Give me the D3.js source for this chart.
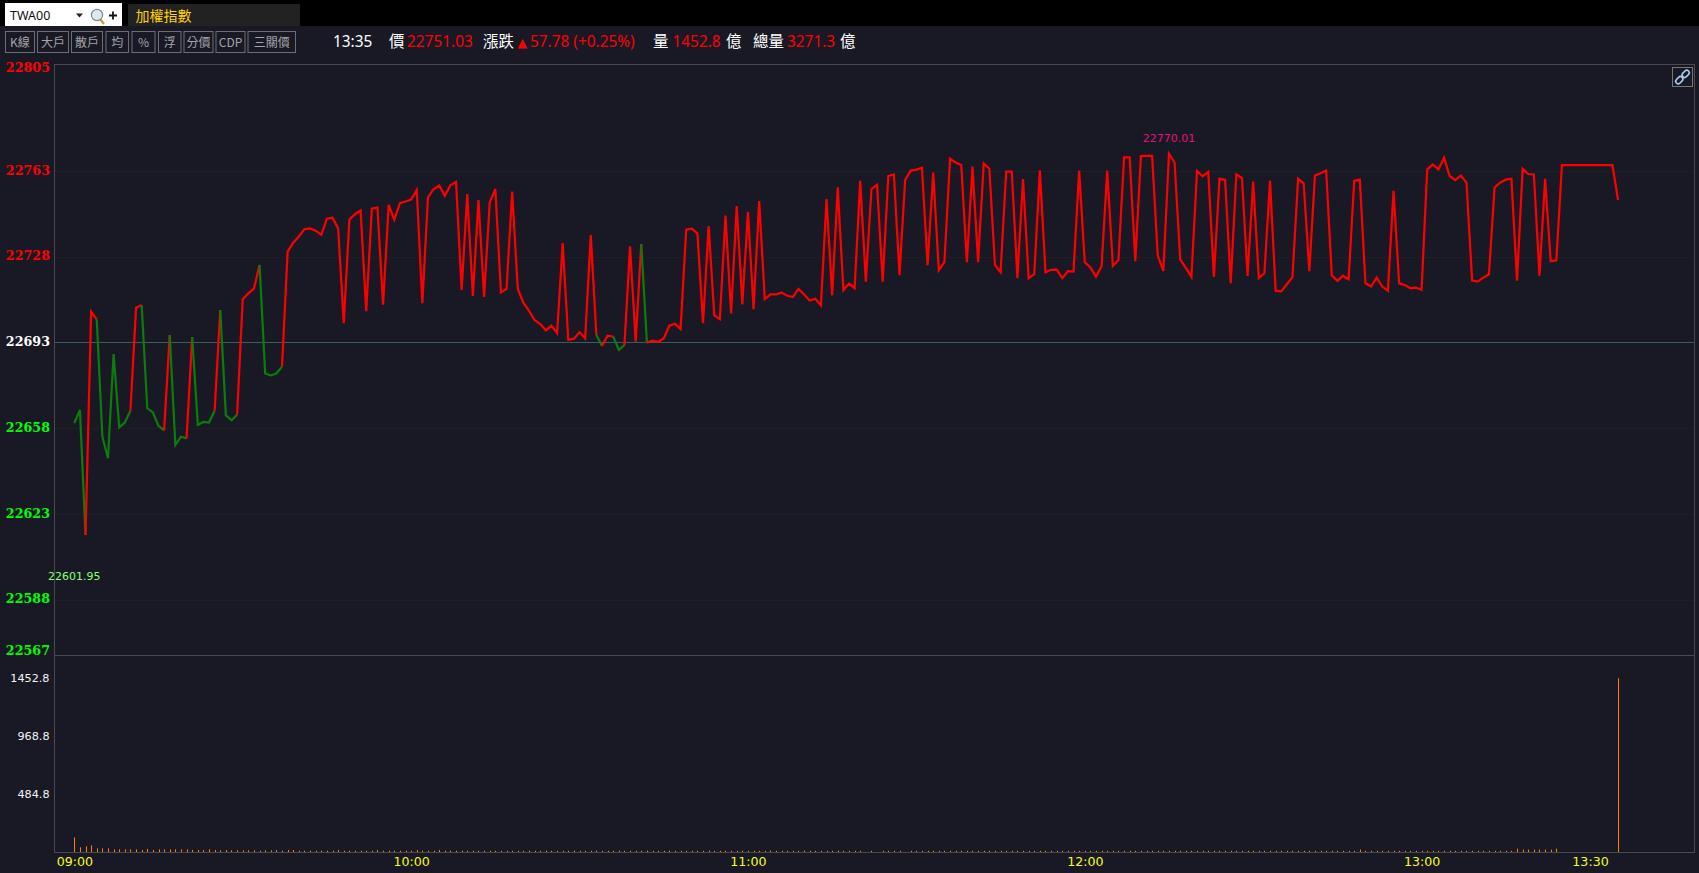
<!DOCTYPE html>
<html lang="zh-Hant">
<head>
<meta charset="utf-8">
<title>加權指數</title>
<script src="https://cdn.jsdelivr.net/npm/d3@7"></script>
<style>
  html, body { margin: 0; padding: 0; background: #191925; overflow: hidden; }
  svg { display: block; }
  text { font-family: "Noto Sans", "Noto Sans CJK TC", sans-serif; }
  .num { font-family: "DejaVu Sans", sans-serif; }
  .price-axis text { font-family: "DejaVu Serif", serif; font-weight: bold; font-size: 12.7px; }
  .vol-axis text { font-family: "DejaVu Sans", sans-serif; font-size: 11.2px; fill: #f4f4f4; }
  .time-axis text { font-family: "DejaVu Sans", sans-serif; font-size: 12.6px; fill: #f4ff20; }
</style>
</head>
<body>
<div id="chart"></div>
<script>
// Index level at the close of each minute from 09:00
const prices = [
  22660.1, 22665.4, 22614.4, 22705.5, 22702.4, 22654.5, 22645.7, 22688.2, 22658.3, 22660.3,
  22665.1, 22707.1, 22708.2, 22666.1, 22664.4, 22658.9, 22657.1, 22696.0, 22651.1, 22654.5,
  22653.8, 22695.2, 22659.3, 22660.5, 22660.3, 22665.1, 22706.2, 22663.3, 22661.2, 22663.5,
  22710.6, 22713.0, 22714.9, 22724.6, 22680.3, 22679.5, 22680.3, 22683.1, 22730.0, 22733.7,
  22736.2, 22739.2, 22739.5, 22738.6, 22736.9, 22743.5, 22743.9, 22739.5, 22700.8, 22743.1,
  22745.3, 22746.8, 22705.7, 22747.6, 22748.0, 22708.4, 22749.1, 22743.0, 22749.8, 22750.5,
  22751.3, 22755.2, 22709.0, 22752.2, 22755.5, 22757.0, 22752.8, 22757.1, 22758.5, 22714.4,
  22753.5, 22711.9, 22751.1, 22711.5, 22750.1, 22755.6, 22713.4, 22714.8, 22754.5, 22714.8,
  22709.2, 22705.9, 22702.1, 22700.5, 22697.9, 22699.8, 22696.7, 22733.5, 22694.0, 22694.5,
  22697.2, 22694.6, 22736.8, 22696.0, 22691.5, 22695.7, 22695.4, 22689.9, 22691.9, 22732.2,
  22693.3, 22733.1, 22692.9, 22693.7, 22693.2, 22694.6, 22699.8, 22700.6, 22698.4, 22739.0,
  22739.4, 22737.5, 22700.8, 22740.5, 22704.0, 22702.4, 22744.7, 22704.8, 22748.6, 22708.5,
  22746.3, 22706.5, 22750.7, 22710.7, 22712.6, 22712.6, 22713.3, 22712.0, 22711.5, 22714.8,
  22712.5, 22710.1, 22710.8, 22708.1, 22751.5, 22712.2, 22756.3, 22714.3, 22717.0, 22715.1,
  22758.9, 22717.8, 22755.6, 22757.3, 22717.8, 22760.9, 22761.5, 22720.4, 22759.3, 22763.1,
  22763.5, 22764.3, 22724.5, 22762.3, 22722.4, 22725.7, 22767.9, 22766.4, 22765.4, 22725.7,
  22764.7, 22725.7, 22766.0, 22763.9, 22724.6, 22721.6, 22762.7, 22762.7, 22719.2, 22759.6,
  22719.2, 22720.8, 22763.2, 22721.6, 22722.6, 22722.7, 22719.2, 22722.1, 22721.9, 22763.1,
  22725.7, 22723.6, 22719.8, 22724.2, 22763.1, 22724.2, 22726.6, 22768.5, 22768.5, 22726.1,
  22769.0, 22769.1, 22769.1, 22728.4, 22722.1, 22770.01, 22766.4, 22726.9, 22723.4, 22719.7,
  22763.0, 22760.8, 22762.6, 22719.7, 22759.8, 22759.3, 22717.1, 22761.5, 22760.1, 22720.1,
  22758.6, 22719.2, 22721.2, 22759.0, 22714.1, 22713.8, 22716.7, 22719.6, 22759.8, 22757.9,
  22722.0, 22761.1, 22762.0, 22763.1, 22720.4, 22718.1, 22720.2, 22718.7, 22758.9, 22759.4,
  22717.1, 22715.8, 22719.4, 22715.8, 22714.0, 22754.8, 22717.1, 22716.4, 22715.1, 22715.3,
  22714.5, 22763.6, 22765.6, 22763.6, 22768.3, 22760.9, 22759.2, 22761.1, 22758.2, 22718.2,
  22717.8, 22719.4, 22720.8, 22756.2, 22758.2, 22759.4, 22759.8, 22718.2, 22763.9, 22761.7,
  22761.5, 22720.2, 22759.7, 22726.1, 22726.4, 22765.3, 22765.3, 22765.3, 22765.3, 22765.3,
  22765.3, 22765.3, 22765.3, 22765.3, 22765.3, 22751.03
];

// Turnover per minute, in 億
const volumes = [
  122, 39, 47, 55, 30, 30, 30, 22, 22, 22,
  22, 22, 17, 25, 17, 22, 22, 22, 22, 22,
  22, 17, 17, 17, 22, 17, 14, 17, 14, 14,
  14, 14, 14, 11, 14, 14, 17, 11, 17, 17,
  11, 11, 11, 11, 11, 11, 11, 17, 11, 11,
  11, 11, 11, 11, 17, 11, 11, 11, 11, 11,
  11, 17, 11, 11, 11, 17, 11, 11, 11, 11,
  11, 11, 11, 11, 11, 10, 10, 10, 10, 10,
  10, 12, 10, 10, 12, 10, 10, 10, 10, 12,
  10, 10, 10, 12, 10, 10, 10, 12, 10, 10,
  10, 10, 12, 10, 10, 10, 12, 10, 10, 10,
  10, 10, 10, 12, 10, 10, 10, 10, 10, 12,
  10, 10, 10, 10, 12, 10, 10, 10, 10, 10,
  12, 10, 10, 10, 10, 10, 12, 10, 10, 10,
  10, 0, 10, 0, 10, 10, 10, 10, 0, 10,
  10, 10, 10, 10, 10, 10, 10, 10, 10, 10,
  10, 10, 10, 10, 10, 10, 10, 10, 10, 10,
  10, 10, 10, 10, 10, 10, 10, 10, 10, 10,
  10, 10, 10, 10, 10, 10, 10, 10, 10, 10,
  10, 10, 10, 10, 10, 10, 10, 10, 10, 10,
  10, 10, 10, 10, 10, 10, 10, 10, 10, 10,
  10, 10, 10, 10, 10, 10, 10, 10, 10, 10,
  10, 10, 10, 10, 10, 10, 10, 10, 10, 20,
  10, 10, 10, 10, 10, 10, 10, 10, 10, 10,
  10, 10, 10, 10, 10, 10, 10, 10, 10, 10,
  10, 10, 10, 10, 10, 10, 10, 28, 20, 20,
  20, 20, 20, 20, 28, 0, 0, 0, 0, 0,
  0, 0, 0, 0, 0, 1452.8
];

const priceTicks = [22805, 22763, 22728, 22693, 22658, 22623, 22588, 22567];
const referenceLevel = 22693;
const volumeTicks = [484.8, 968.8, 1452.8];
const timeTickMinutes = [0, 60, 120, 180, 240, 270];
const timeTickLabels = ["09:00", "10:00", "11:00", "12:00", "13:00", "13:30"];
const toolButtons = ["K線", "大戶", "散戶", "均", "%", "浮", "分價", "CDP", "三關價"];
const sessionHigh = 22770.01, sessionHighMinute = 195;
const sessionLow = 22601.95, sessionLowMinute = 0;

const RED = "#ff0000", GREEN = "#0b7d0b", LIME = "#00ff00";
const FRAME = "#4a4a4d";

const svg = d3.select("#chart").append("svg").attr("width", 1699).attr("height", 873);

// Panel geometry
const panelLeft = 54.5, panelRight = 1694.5, panelTop = 64.5, panelMid = 655.5, panelBottom = 852.5;

const x = d3.scaleLinear().domain([0, 270]).range([74.3, 1590]);
const y = d3.scaleLinear().domain([22565.2, 22806.4]).range([panelMid, panelTop]);
const yVol = d3.scaleLinear().domain([0, 1452.8]).range([panelBottom - 0.5, 678.3]);

/* ---------- top bars ---------- */
svg.append("rect").attr("width", 1699).attr("height", 26).attr("fill", "#000");
svg.append("rect").attr("x", 5).attr("y", 3).attr("width", 117).attr("height", 23).attr("fill", "#fff");
svg.append("text").attr("x", 10).attr("y", 20).attr("font-size", 12.5).attr("fill", "#111").text("TWA00");
svg.append("path").attr("d", "M76,13.5h7l-3.5,4z").attr("fill", "#222");

// search glyph and plus sign
const glass = svg.append("g").attr("transform", "translate(97,15)");
glass.append("line").attr("x1", 3).attr("y1", 4).attr("x2", 7).attr("y2", 9)
  .attr("stroke", "#c79a2b").attr("stroke-width", 2.2);
glass.append("circle").attr("r", 5.6).attr("fill", "#dfe8ee").attr("stroke", "#7d8a94").attr("stroke-width", 1.2);
svg.append("path").attr("d", "M109,15.5h8M113,11.5v8").attr("stroke", "#111").attr("stroke-width", 1.8);

svg.append("rect").attr("x", 128).attr("y", 4).attr("width", 172).attr("height", 22).attr("fill", "#222222");
svg.append("text").attr("x", 135.5).attr("y", 20.5).attr("font-size", 14).attr("fill", "#ffd400")
  .style("font-family", "'Noto Sans CJK TC'").text("加權指數");

/* ---------- tool buttons ---------- */
const buttonEdges = [[5, 35], [37, 69], [71, 103], [105.5, 129], [131.5, 155.5], [158, 181.5], [183.5, 213.5], [215.5, 245.5], [247.5, 296]];
const buttons = svg.append("g").selectAll("g").data(toolButtons).join("g");
buttons.append("rect")
  .attr("x", (d, i) => buttonEdges[i][0] + 0.5).attr("y", 31.5)
  .attr("width", (d, i) => buttonEdges[i][1] - buttonEdges[i][0] - 1).attr("height", 21)
  .attr("fill", "none").attr("stroke", "#6e6e72");
buttons.append("text")
  .attr("x", (d, i) => (buttonEdges[i][0] + buttonEdges[i][1]) / 2).attr("y", 46.5)
  .attr("text-anchor", "middle").attr("font-size", 12).attr("fill", "#a4a4a8")
  .style("font-family", "'Noto Sans CJK TC'").text(d => d);

/* ---------- quote strip ---------- */
const quoteParts = [
  [333, "13:35", "#fff"], [389, "價", "#fff"], [407, "22751.03", RED], [483, "漲跌", "#fff"],
  [530, "57.78 (+0.25%)", RED], [653, "量", "#fff"], [672.5, "1452.8", RED], [726, "億", "#fff"],
  [753, "總量", "#fff"], [787, "3271.3", RED], [840, "億", "#fff"]
];
svg.append("g").selectAll("text").data(quoteParts).join("text")
  .attr("x", d => d[0]).attr("y", 47).attr("font-size", 15.4).attr("fill", d => d[2]).text(d => d[1]);
// rise marker in front of the change figure
svg.append("text").attr("x", 517.5).attr("y", 47).attr("font-size", 12.5).attr("fill", RED)
  .style("font-family", "'DejaVu Sans'").text("▲");

/* ---------- grid and frames ---------- */
const grid = svg.append("g");
grid.selectAll("line").data(priceTicks.filter(d => d !== priceTicks[0] && d !== priceTicks[7])).join("line")
  .attr("x1", panelLeft).attr("x2", panelRight)
  .attr("y1", d => Math.round(y(d)) + 0.5).attr("y2", d => Math.round(y(d)) + 0.5)
  .attr("stroke", d => d === referenceLevel ? "#35605c" : "#1e1f20");

svg.append("rect").attr("x", panelLeft).attr("y", panelTop)
  .attr("width", panelRight - panelLeft).attr("height", panelBottom - panelTop)
  .attr("fill", "none").attr("stroke", FRAME);
svg.append("line").attr("x1", panelLeft).attr("x2", panelRight).attr("y1", panelMid).attr("y2", panelMid).attr("stroke", FRAME);

/* ---------- axes ---------- */
const priceAxis = svg.append("g").attr("class", "price-axis").attr("transform", `translate(${panelLeft},0)`)
  .call(d3.axisLeft(y).tickValues(priceTicks).tickSize(0).tickPadding(4.5).tickFormat(d3.format("d")));
priceAxis.select(".domain").remove();
priceAxis.selectAll("text")
  .attr("dy", "0.26em")
  .attr("fill", d => d > referenceLevel ? RED : d === referenceLevel ? "#fff" : LIME);

const volAxis = svg.append("g").attr("class", "vol-axis").attr("transform", `translate(${panelLeft},0)`)
  .call(d3.axisLeft(yVol).tickValues(volumeTicks).tickSize(0).tickPadding(5).tickFormat(d3.format(".1f")));
volAxis.select(".domain").remove();

const timeAxis = svg.append("g").attr("class", "time-axis").attr("transform", `translate(0,${panelBottom})`)
  .call(d3.axisBottom(x).tickValues(timeTickMinutes).tickSize(0).tickPadding(4.5)
    .tickFormat((d, i) => timeTickLabels[i]));
timeAxis.select(".domain").remove();

/* ---------- price line: segments take their colour from the closing level of the minute ---------- */
const line = d3.line().x(d => x(d[0])).y(d => y(d[1]));
const runs = [];
prices.forEach((p, i) => {
  if (i === 0) return;
  const color = p < referenceLevel ? GREEN : RED;
  const last = runs[runs.length - 1];
  if (last && last.color === color) last.pts.push([i, p]);
  else runs.push({ color, pts: [[i - 1, prices[i - 1]], [i, p]] });
});
svg.append("g").selectAll("path").data(runs).join("path")
  .attr("d", d => line(d.pts))
  .attr("fill", "none").attr("stroke", d => d.color).attr("stroke-width", 2.2)
  .attr("stroke-linejoin", "miter");

/* ---------- session extremes ---------- */
svg.append("text").attr("class", "num").attr("x", x(sessionHighMinute)).attr("y", y(sessionHigh) - 11.5)
  .attr("text-anchor", "middle").attr("font-size", 11).attr("fill", "#e0137c").text(sessionHigh.toFixed(2));
svg.append("text").attr("class", "num").attr("x", x(sessionLowMinute)).attr("y", y(sessionLow) + 14.5)
  .attr("text-anchor", "middle").attr("font-size", 11).attr("fill", "#8cff78").text(sessionLow.toFixed(2));

/* ---------- volume bars ---------- */
svg.append("g").selectAll("line").data(volumes.map((v, i) => [i, v]).filter(d => d[1] > 0)).join("line")
  .attr("x1", d => Math.round(x(d[0])) + 0.5).attr("x2", d => Math.round(x(d[0])) + 0.5)
  .attr("y1", yVol(0)).attr("y2", d => yVol(d[1]))
  .attr("stroke", "#ff8000").attr("stroke-width", 1);

/* ---------- link button ---------- */
svg.append("rect").attr("x", 1672.5).attr("y", 67.5).attr("width", 20).attr("height", 19)
  .attr("fill", "none").attr("stroke", "#777");
const chain = svg.append("g").attr("transform", "translate(1682.5,77) rotate(-45)")
  .attr("fill", "none").attr("stroke", "#a8cdf0").attr("stroke-width", 1.6);
chain.append("rect").attr("x", -8.5).attr("y", -2.5).attr("width", 8).attr("height", 5).attr("rx", 2.5);
chain.append("rect").attr("x", 0.5).attr("y", -2.5).attr("width", 8).attr("height", 5).attr("rx", 2.5);
</script>
</body>
</html>
